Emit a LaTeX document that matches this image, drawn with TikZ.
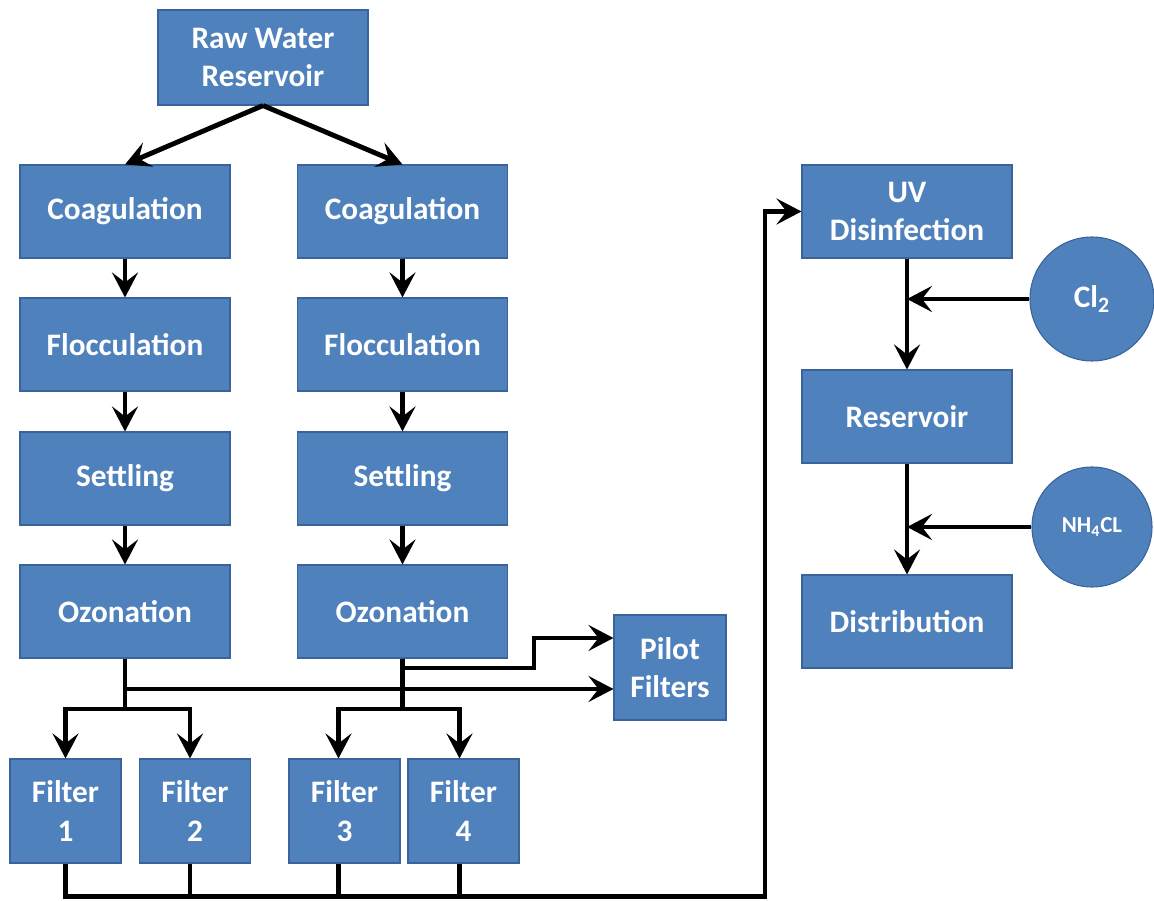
\documentclass[tikz,border=0pt]{standalone}
\usepackage{fontspec}
\setmainfont{Carlito}
\usepackage{xcolor}
\definecolor{usineBleu}{HTML}{4F81BD}
\definecolor{usineBord}{HTML}{3A639A}
\usepackage{tikz}
\usetikzlibrary{arrows.meta, calc}
\tikzset{
  %% ── Boxes ────────────────────────────────────────────────────────────
  %% One blue for every stage of the plant; only the sizes change.
  bloc/.style       = {draw=usineBord, line width=0.6pt, fill=usineBleu,
                       text=white, align=center, inner sep=2pt,
                       font=\fontsize{17.8}{22}\selectfont\bfseries},
  blocEtape/.style  = {bloc, minimum width=4.2cm, minimum height=1.86cm},
  blocFiltre/.style = {bloc, minimum width=2.22cm, minimum height=2.08cm},
  blocDose/.style   = {bloc, circle, inner sep=0pt},
  %%
  %% ── Pipes ────────────────────────────────────────────────────────────
  conduite/.style   = {draw=black, line width=2.8pt},
  fleche/.style     = {conduite,
                       -{Stealth[length=5mm, width=5.2mm, inset=2mm]}},
}

\begin{document}
\begin{tikzpicture}[x=1cm, y=1cm]
\useasboundingbox (0, 0) rectangle (23.08, 18);

\node[bloc, minimum width=4.2cm, minimum height=1.9cm] (raw) at (5.26, 16.85)
     {Raw Water\\Reservoir};

\node[blocEtape] (coaA) at (2.5, 13.77) {Coagulation};
\node[blocEtape] (floA) at (2.5, 11.11) {Flocculation};
\node[blocEtape] (setA) at (2.5, 8.43)  {Settling};
\node[blocEtape] (ozoA) at (2.5, 5.77)  {Ozonation};

\node[blocEtape] (coaB) at (8.05, 13.77) {Coagulation};
\node[blocEtape] (floB) at (8.05, 11.11) {Flocculation};
\node[blocEtape] (setB) at (8.05, 8.43)  {Settling};
\node[blocEtape] (ozoB) at (8.05, 5.77)  {Ozonation};

\node[bloc, minimum width=2.24cm, minimum height=2.1cm] (pil) at (13.4, 4.65)
     {Pilot\\Filters};

\node[blocFiltre] (fi1) at (1.31, 1.78) {Filter\\1};
\node[blocFiltre] (fi2) at (3.9, 1.78)  {Filter\\2};
\node[blocFiltre] (fi3) at (6.89, 1.78) {Filter\\3};
\node[blocFiltre] (fi4) at (9.27, 1.78) {Filter\\4};

\node[blocEtape] (uv)  at (18.14, 13.77) {UV\\Disinfection};
\node[blocEtape] (res) at (18.14, 9.67)  {Reservoir};
\node[blocEtape] (dis) at (18.14, 5.57)  {Distribution};

\node[blocDose, minimum size=2.48cm] (cl) at (21.84, 12.02) {Cl\textsubscript{2}};
\node[blocDose, minimum size=2.4cm, font=\fontsize{13}{15}\selectfont\bfseries]
     (nh) at (21.84, 7.46) {NH\textsubscript{4}CL};

\coordinate (brA) at (2.5, 3.82);
\coordinate (brB) at (8.05, 3.82);
\coordinate (pilHaut) at ([yshift=0.59cm]pil.west);
\coordinate (pilBas)  at ([yshift=-0.43cm]pil.west);
\coordinate (col) at (15.3, 0.07);

\draw[fleche] (raw.south) -- (coaA.north);
\draw[fleche] (raw.south) -- (coaB.north);
\draw[fleche] (coaA) -- (floA);
\draw[fleche] (floA) -- (setA);
\draw[fleche] (setA) -- (ozoA);
\draw[fleche] (coaB) -- (floB);
\draw[fleche] (floB) -- (setB);
\draw[fleche] (setB) -- (ozoB);

\draw[conduite] (ozoA.south) -- (brA);
\draw[conduite] (ozoB.south) -- (brB);
\draw[fleche] (brA) -| (fi1.north);
\draw[fleche] (brA) -| ([xshift=-0.1cm]fi2.north);
\draw[fleche] (brB) -| ([xshift=-0.12cm]fi3.north);
\draw[fleche] (brB) -| ([xshift=-0.08cm]fi4.north);
\draw[fleche] (ozoA.south |- pilBas) -- (pilBas);
\draw[fleche] (ozoB.south |- 0, 4.64) -- (10.68, 4.64) |- (pilHaut);

\draw[fleche] (fi1.south) |- (col) |- (uv.west);
\draw[conduite] ([xshift=-0.1cm]fi2.south) -- ([xshift=-0.1cm]fi2.south |- col);
\draw[conduite] ([xshift=-0.12cm]fi3.south) -- ([xshift=-0.12cm]fi3.south |- col);
\draw[conduite] ([xshift=-0.08cm]fi4.south) -- ([xshift=-0.08cm]fi4.south |- col);

\draw[fleche] (uv) -- (res);
\draw[fleche] (res) -- (dis);
\draw[fleche] (cl.west) -- (cl.west -| uv.south);
\draw[fleche] (nh.west) -- (nh.west -| res.south);

\end{tikzpicture}
\end{document}
